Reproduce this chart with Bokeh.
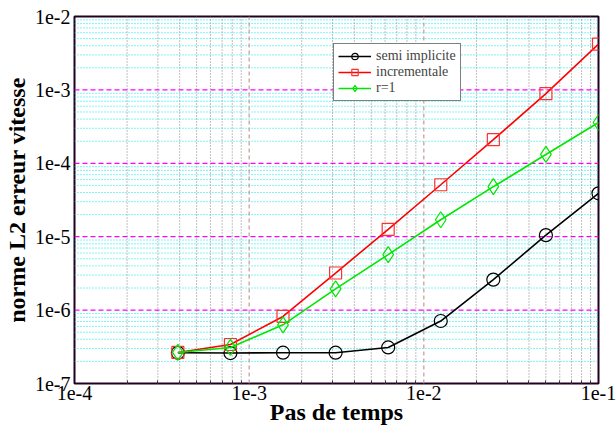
from bokeh.plotting import figure
from bokeh.models import FixedTicker, Legend, LegendItem
from bokeh.embed import file_html
from bokeh.resources import INLINE

dt = [0.1, 0.05, 0.025, 0.0125, 0.00625, 0.003125, 0.0015625, 0.00078125, 0.000390625]
semi_implicite = [3.9e-5, 1.05e-5, 2.6e-6, 7.1e-7, 3.1e-7, 2.63e-7, 2.63e-7, 2.6e-7, 2.62e-7]
incrementale = [4.2e-3, 8.9e-4, 2.1e-4, 5.1e-5, 1.26e-5, 3.2e-6, 8.2e-7, 3.4e-7, 2.65e-7]
r1 = [3.6e-4, 1.32e-4, 4.8e-5, 1.7e-5, 5.7e-6, 1.95e-6, 6.3e-7, 3.1e-7, 2.65e-7]

x_ticks = [1e-4, 1e-3, 1e-2, 1e-1]
x_labels = ["1e-4", "1e-3", "1e-2", "1e-1"]
y_ticks = [1e-7, 1e-6, 1e-5, 1e-4, 1e-3, 1e-2]
y_labels = ["1e-7", "1e-6", "1e-5", "1e-4", "1e-3", "1e-2"]

x_minor = [m * t for t in x_ticks[:-1] for m in range(2, 10)]
y_minor = [m * t for t in y_ticks[:-1] for m in range(2, 10)]

xr = (x_ticks[0], x_ticks[-1])
yr = (y_ticks[0], y_ticks[-1])

p = figure(width=616, height=429, x_axis_type="log", y_axis_type="log",
           x_range=xr, y_range=yr,
           output_backend="svg", toolbar_location=None,
           min_border_left=73, min_border_right=18, min_border_top=16, min_border_bottom=46)

serif = "Times New Roman"
p.xaxis.ticker = FixedTicker(ticks=x_ticks, minor_ticks=x_minor)
p.yaxis.ticker = FixedTicker(ticks=y_ticks)
p.xaxis.major_label_overrides = {t: l for t, l in zip(x_ticks, x_labels)}
p.yaxis.major_label_overrides = {t: l for t, l in zip(y_ticks, y_labels)}

for ax in (p.xaxis[0], p.yaxis[0]):
    ax.major_label_text_font = serif
    ax.major_label_text_font_size = "20px"
    ax.major_label_text_color = "black"
    ax.axis_label_text_font = serif
    ax.axis_label_text_font_size = "24px"
    ax.axis_label_text_font_style = "bold"
    ax.axis_label_text_color = "black"
    ax.major_tick_line_color = None
    ax.major_tick_out = 0
    ax.minor_tick_out = 0
    ax.axis_line_color = None
    ax.major_label_standoff = 2

p.xaxis.minor_tick_in = 3
p.xaxis.minor_tick_line_color = "#333333"
p.yaxis.minor_tick_line_color = None
p.xaxis.axis_label_standoff = -4
p.yaxis.axis_label_standoff = 2
p.yaxis.major_label_standoff = 4

p.xaxis.axis_label = "Pas de temps"
p.yaxis.axis_label = "norme L2 erreur vitesse"

p.xgrid.visible = False
p.ygrid.visible = False

# grid lines drawn as segments derived from tick lists
p.segment(x0=x_minor, x1=x_minor, y0=[yr[0]] * len(x_minor), y1=[yr[1]] * len(x_minor),
          line_color="#808080", line_dash="1 2", line_width=1)
p.segment(x0=[xr[0]] * len(y_minor), x1=[xr[1]] * len(y_minor), y0=y_minor, y1=y_minor,
          line_color="#00e8e8", line_dash="1 2", line_width=1)
p.segment(x0=x_ticks[1:-1], x1=x_ticks[1:-1], y0=[yr[0]] * 2, y1=[yr[1]] * 2,
          line_color="#c89898", line_dash="4 3", line_width=1.2)
p.segment(x0=[xr[0]] * 4, x1=[xr[1]] * 4, y0=y_ticks[1:-1], y1=y_ticks[1:-1],
          line_color="#ff00ff", line_dash="5 3", line_width=1.2)

p.outline_line_color = "#200020"
p.outline_line_width = 2
p.background_fill_color = "white"

l1 = p.line(dt, semi_implicite, line_color="black", line_width=1.6)
s1 = p.scatter(dt, semi_implicite, marker="circle", size=13, fill_color=None, line_color="black", line_width=1.2)
l2 = p.line(dt, incrementale, line_color="red", line_width=1.6)
s2 = p.scatter(dt, incrementale, marker="square", size=12, fill_color=None, line_color="#ff3030", line_width=1.2)
l3 = p.line(dt, r1, line_color="#00e600", line_width=1.6)
s3 = p.scatter(dt, r1, marker="diamond", size=16, fill_color=None, line_color="#00e600", line_width=1.2)

legend = Legend(items=[
    LegendItem(label="semi implicite", renderers=[l1, s1]),
    LegendItem(label="incrementale", renderers=[l2, s2]),
    LegendItem(label="r=1", renderers=[l3, s3]),
], location=(259, 282))
legend.label_text_font = serif
legend.label_text_font_size = "14px"
legend.label_height = 15
legend.glyph_height = 16
legend.glyph_width = 33
legend.spacing = 0
legend.padding = 4
legend.margin = 0
legend.label_standoff = 5
legend.border_line_color = "black"
legend.border_line_width = 1.2
legend.background_fill_alpha = 1
p.add_layout(legend, "center")

open("out.html", "w").write(file_html(p, INLINE))
